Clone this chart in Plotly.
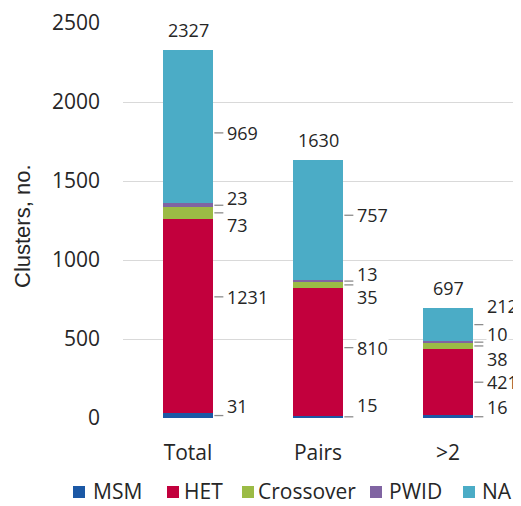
import plotly.graph_objects as go

categories = ["Total", "Pairs", ">2"]
series_names = ["MSM", "HET", "Crossover", "PWID", "NA"]
msm = [31, 15, 16]
het = [1231, 810, 421]
crossover = [73, 35, 38]
pwid = [23, 13, 10]
na = [969, 757, 212]
totals = [2327, 1630, 697]
y_ticks = [0, 500, 1000, 1500, 2000, 2500]

colors = ["#1B58A5", "#C2003D", "#9BBB45", "#8064A2", "#4BACC6"]
series = [msm, het, crossover, pwid, na]

# pixel offsets of the data labels (up positive) per category, per series
label_shift = [[10, 19, -12, 7, -6], [12, 4, -12, 7, 5], [10, 0, -13, 8, 19]]
leader_shift = [[0, 19, 0, 0, -6], [0, 4, 0, 0, 5], [0, 0, 0, 0, 0]]

# the page body has an 8px margin, so the figure starts at (8, 8)
OFF = 8
W, H = 521 - OFF, 506 - OFF
PLOT_L, PLOT_R, PLOT_T, PLOT_B = 123, 513, 23, 418   # in page pixels
ML, MR, MT = PLOT_L - OFF, 521 - PLOT_R, PLOT_T - OFF
MB = H - (PLOT_B - OFF)
PW, PH = PLOT_R - PLOT_L, PLOT_B - PLOT_T
FONT = "Open Sans"
TXT = "#262626"
BAR_W = 0.39


def px_x(px):
    return (px - PLOT_L) / PW


def px_y(py):
    return (PLOT_B - py) / PH


fig = go.Figure()
for name, vals, col in zip(series_names, series, colors):
    fig.add_trace(go.Bar(x=categories, y=vals, name=name, marker_color=col,
                         marker_line_width=0, width=BAR_W, showlegend=False))

annotations = []
shapes = []
for i, cat in enumerate(categories):
    base = 0
    for s, vals in enumerate(series):
        v = vals[i]
        center = base + v / 2
        base += v
        edge = i + BAR_W / 2
        shapes.append(dict(type="line", xref="x", yref="y", xsizemode="pixel",
                           xanchor=edge, x0=1, x1=10, ysizemode="pixel",
                           yanchor=center, y0=leader_shift[i][s], y1=leader_shift[i][s],
                           line=dict(color="#8C8C8C", width=1.3), layer="above"))
        annotations.append(dict(x=edge, y=center, xref="x", yref="y", text=str(v),
                                showarrow=False, xanchor="left", yanchor="middle",
                                xshift=13, yshift=label_shift[i][s], align="left",
                                font=dict(family=FONT, size=18, color=TXT),
                                bgcolor="white", borderpad=0))
    annotations.append(dict(x=i, y=totals[i], xref="x", yref="y", text=str(totals[i]),
                            showarrow=False, xanchor="center", yanchor="bottom", yshift=6,
                            font=dict(family=FONT, size=18, color=TXT)))

# y axis title
annotations.append(dict(x=px_x(22), y=px_y(226), xref="paper", yref="paper",
                        text="Clusters, no.", textangle=-90, showarrow=False,
                        xanchor="center", yanchor="middle",
                        font=dict(family="Liberation Sans", size=22, color=TXT)))

# legend
sq_left = [73, 167, 242, 370, 463]
txt_left = [91, 182, 256, 387, 480]
leg_y = 491
for name, col, sx, tx in zip(series_names, colors, sq_left, txt_left):
    shapes.append(dict(type="rect", xref="paper", yref="paper",
                       x0=px_x(sx), x1=px_x(sx + 12), y0=px_y(leg_y + 7), y1=px_y(leg_y - 5),
                       fillcolor=col, line_width=0))
    annotations.append(dict(x=px_x(tx), y=px_y(leg_y), xref="paper", yref="paper",
                            text=name, showarrow=False, xanchor="left", yanchor="middle",
                            font=dict(family=FONT, size=21, color=TXT)))

fig.update_layout(
    width=W, height=H, barmode="stack",
    margin=dict(l=ML, r=MR, t=MT, b=MB, autoexpand=False),
    paper_bgcolor="white", plot_bgcolor="white",
    showlegend=False,
    annotations=annotations, shapes=shapes,
    xaxis=dict(type="category", range=[-0.5, 2.5], showgrid=False, showline=False,
               zeroline=False, ticks="", ticklabelstandoff=20,
               tickfont=dict(family=FONT, size=21, color=TXT)),
    yaxis=dict(range=[0, 2500], tickvals=y_ticks, showgrid=True, gridcolor="#D9D9D9",
               gridwidth=1, zeroline=False, showline=False, ticks="",
               ticklabelstandoff=22,
               tickfont=dict(family=FONT, size=21, color=TXT)),
)

fig.write_html("out.html")
